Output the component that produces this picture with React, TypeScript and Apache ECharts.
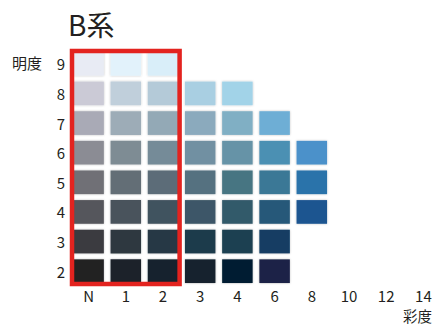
import React, { useEffect, useRef } from "react";
import * as echarts from "echarts";

const chromaLabels = ["N", "1", "2", "3", "4", "6", "8", "10", "12", "14"];
const valueLabels = ["2", "3", "4", "5", "6", "7", "8", "9"];

// colours for values 2..9 in each chroma column (null = no chip)
const colN = ["#222224", "#3b3a40", "#55565c", "#6f7076", "#8b8c94", "#a9aab6", "#cbcad6", "#e8ebf4"];
const col1 = ["#1e232b", "#2e373f", "#4a535c", "#636e76", "#7e8c94", "#9dacb7", "#c0cfdb", "#e2f2fb"];
const col2 = ["#13222d", "#253844", "#41525e", "#5b6c78", "#758b98", "#93a9b6", "#b4cad8", "#d9eef9"];
const col3 = ["#13232f", "#1f3b4b", "#3d5767", "#557180", "#7190a2", "#8baabd", "#a9cfe2", null];
const col4 = ["#061d33", "#1b3f51", "#335a6b", "#477582", "#6693a7", "#80afc4", "#a2d3e8", null];
const col6 = ["#1b2347", "#123e64", "#265879", "#3a7896", "#4c90b3", "#6eaed5", null, null];
const col8 = [null, null, "#1c5590", "#2c73aa", "#4b91ca", null, null, null];
const col10: (string | null)[] = [null, null, null, null, null, null, null, null];
const col12: (string | null)[] = [null, null, null, null, null, null, null, null];
const col14: (string | null)[] = [null, null, null, null, null, null, null, null];

const columns = [colN, col1, col2, col3, col4, col6, col8, col10, col12, col14];

const FONT = "'Noto Sans CJK JP', 'Noto Sans', sans-serif";

export default function App() {
  const ref = useRef<HTMLDivElement>(null);
  useEffect(() => {
    document.body.style.margin = "0";
    document.body.style.overflow = "hidden";
    if (!ref.current) return;
    const chart = echarts.init(ref.current, null, { renderer: "svg" });
    const data: any[] = [];
    columns.forEach((col, xi) => {
      col.forEach((c, yi) => {
        if (c) data.push({ value: [xi, yi], itemStyle: { color: c } });
      });
    });
    chart.setOption({
      animation: false,
      backgroundColor: "#ffffff",
      title: {
        text: "B系",
        left: 63,
        top: 5,
        textStyle: { fontFamily: FONT, fontSize: 28, fontWeight: "normal", color: "#231f20" },
      },
      grid: { left: 70, top: 49, width: 372, height: 237 },
      xAxis: {
        type: "category",
        data: chromaLabels,
        boundaryGap: true,
        axisLine: { show: false },
        axisTick: { show: false },
        splitLine: { show: false },
        axisLabel: { fontFamily: FONT, fontSize: 15, lineHeight: 15, color: "#231f20", margin: 2 },
      },
      yAxis: {
        type: "category",
        data: valueLabels,
        boundaryGap: true,
        axisLine: { show: false },
        axisTick: { show: false },
        splitLine: { show: false },
        axisLabel: { fontFamily: FONT, fontSize: 15, color: "#231f20", margin: 5 },
      },
      series: [
        {
          type: "custom",
          data,
          renderItem: (params: any, api: any) => {
            const c = api.coord([api.value(0), api.value(1)]);
            const s = api.size([1, 1]);
            const w = s[0] * 0.82;
            const h = s[1] * 0.8;
            return {
              type: "rect",
              shape: { x: c[0] - w / 2, y: c[1] - h / 2, width: w, height: h },
              style: {
                fill: api.visual("color"),
                shadowBlur: 2,
                shadowColor: "rgba(0,0,0,0.25)",
              },
            };
          },
        },
      ],
    });
    // red frame around columns N..2, computed from the axes
    const p0 = chart.convertToPixel({ gridIndex: 0 } as any, [0, 7]) as number[];
    const p1 = chart.convertToPixel({ gridIndex: 0 } as any, [2, 0]) as number[];
    const bw = 372 / chromaLabels.length;
    const bh = 237 / valueLabels.length;
    const inset = 2;
    const x0 = p0[0] - bw / 2 + inset;
    const y0 = p0[1] - bh / 2 + inset;
    const x1 = p1[0] + bw / 2 - inset;
    const y1 = p1[1] + bh / 2 - inset;
    chart.setOption({
      graphic: [
        {
          type: "rect",
          shape: { x: x0, y: y0, width: x1 - x0, height: y1 - y0 },
          style: { fill: "none", stroke: "#e3231f", lineWidth: 4.5 },
          z: 10,
        },
        {
          type: "text",
          x: 12,
          y: 62,
          style: {
            text: "明度",
            fontFamily: FONT,
            fontSize: 15,
            fill: "#231f20",
            textVerticalAlign: "middle",
          },
        },
        {
          type: "text",
          x: 432,
          y: 315,
          style: {
            text: "彩度",
            fontFamily: FONT,
            fontSize: 14.5,
            lineHeight: 15,
            fill: "#231f20",
            textAlign: "right",
            textVerticalAlign: "middle",
          },
        },
      ],
    });
    return () => chart.dispose();
  }, []);
  return <div ref={ref} style={{ width: 450, height: 324 }} />;
}
